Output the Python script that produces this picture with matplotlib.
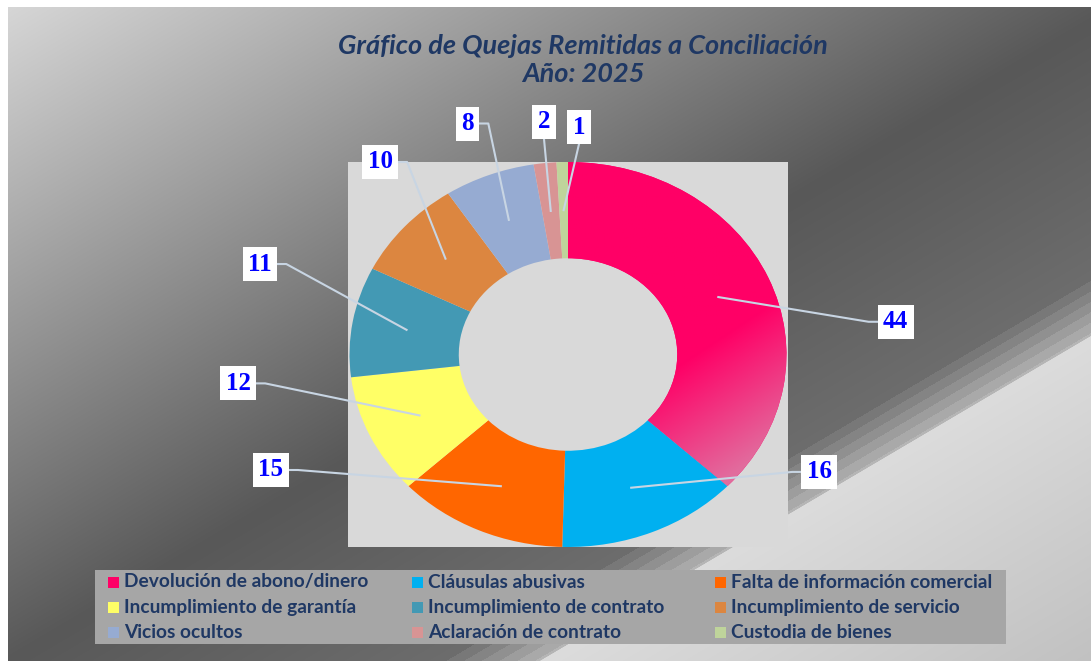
import numpy as np
import matplotlib
matplotlib.use("Agg")
import matplotlib.pyplot as plt
from matplotlib.patches import Rectangle
from matplotlib.colors import to_rgb

categorias = ["Devolución de abono/dinero", "Cláusulas abusivas", "Falta de información comercial",
              "Incumplimiento de garantía", "Incumplimiento de contrato", "Incumplimiento de servicio",
              "Vicios ocultos", "Aclaración de contrato", "Custodia de bienes"]
quejas = [44, 16, 15, 12, 11, 10, 8, 2, 1]
colores = ["#ff0066", "#00b0f0", "#ff6600", "#ffff66", "#4399b4",
           "#dc8640", "#96abd2", "#d89494", "#bfd49b"]

titulo = "Gráfico de Quejas Remitidas a Conciliación\nAño: 2025"

# label box centres (data units of the donut axes) and the side the leader leaves from
pos_etiquetas = [(1.50, 0.17), (1.15, -0.61), (-1.36, -0.60), (-1.51, -0.15), (-1.41, 0.47),
                 (-0.86, 1.00), (-0.46, 1.20), (-0.11, 1.21), (0.05, 1.18)]
lado = ["l", "l", "r", "r", "r", "r", "r", "b", "b"]

W, H = 1091, 661
fig = plt.figure(figsize=(W / 100, H / 100), dpi=100, facecolor="white")

# gradient background
bg = fig.add_axes([8 / W, 0, 1 - 8 / W, 1 - 7 / H])
h, w = 654, 1083
u, v = np.meshgrid(np.linspace(0, 1, w), np.linspace(0, 1, h))
s = 0.977 * u + v
franja = (s > 1.38) & (s < 1.48)
s = np.where(franja, 1.38 + np.floor((s - 1.38) / 0.016) * 0.016, s)
g = np.interp(s, [0, 1.0, 1.38, 1.48, 1.481, 2.0], [214, 88, 108, 185, 220, 192]) / 255
bg.imshow(np.dstack([g, g, g]), aspect="auto", interpolation="bilinear")
bg.axis("off")

# donut
ax = fig.add_axes([348 / W, (H - 547) / H, 440 / W, 385 / H])
wedges, _ = ax.pie(quejas, colors=colores, startangle=90, counterclock=False, radius=1,
                   wedgeprops=dict(width=0.5, edgecolor="none"))
ax.set_frame_on(True)
for sp in ax.spines.values():
    sp.set_visible(False)
ax.set_facecolor("#d9d9d9")

# lighter pink shading on the lower right of the big slice
gx, gy = np.meshgrid(np.linspace(-1, 1, 300), np.linspace(1, -1, 300))
d = 0.6 * gx - 0.8 * gy
t = np.clip((d - 0.35) / 0.6, 0, 1)[..., None] * 0.75
rosa = np.array(to_rgb("#ff0066"))
claro = np.array(to_rgb("#d890b0"))
img = ax.imshow(rosa * (1 - t) + claro * t, extent=[-1, 1, -1, 1], zorder=1.5)
img.set_clip_path(wedges[0])

ax.set_xlim(-1.007, 1.007)
ax.set_ylim(-1, 1)
ax.set_aspect("auto")

total = sum(quejas)
acum = np.cumsum([0] + quejas[:-1])
textos = []
for i, val in enumerate(quejas):
    x, y = pos_etiquetas[i]
    txt = ax.text(x, y, str(val), ha="center", va="center", family="Liberation Serif",
                  fontweight="bold", fontsize=18, color="#0000ff", zorder=6, clip_on=False,
                  bbox=dict(boxstyle="square,pad=0.22", fc="white", ec="none"))
    textos.append(txt)

fig.canvas.draw()
inv = ax.transData.inverted()
for i, val in enumerate(quejas):
    ang = np.deg2rad(90 - (acum[i] + val / 2) / total * 360)
    ancla = (0.75 * np.cos(ang), 0.75 * np.sin(ang))
    bb = textos[i].get_bbox_patch().get_window_extent()
    ym = (bb.y0 + bb.y1) / 2
    if lado[i] == "l":
        pts = [(bb.x0, ym), (bb.x0 - 9, ym)]
    elif lado[i] == "r":
        pts = [(bb.x1, ym), (bb.x1 + 9, ym)]
    else:
        pts = [((bb.x0 + bb.x1) / 2, bb.y0)]
    pts = [tuple(inv.transform(p)) for p in pts] + [ancla]
    xs, ys = zip(*pts)
    ax.plot(xs, ys, color="#c8d5e3", lw=1.5, zorder=5, clip_on=False)

fig.text(583 / W, 1 - 60 / H, titulo, ha="center", va="center", family="Lato", fontsize=19.5,
         fontweight="bold", style="italic", color="#1f3864", linespacing=1.15)

# legend
fig.patches.append(Rectangle((95 / W, 1 - 644 / H), 911 / W, 74 / H, transform=fig.transFigure,
                             fc="#a6a6a6", ec="none", zorder=1))
col_x = [108, 412, 715]
fila_y = [582, 607, 632]
for i, (nombre, c) in enumerate(zip(categorias, colores)):
    x0 = col_x[i % 3]
    y0 = fila_y[i // 3]
    fig.patches.append(Rectangle((x0 / W, 1 - (y0 + 5.5) / H), 11 / W, 11 / H,
                                 transform=fig.transFigure, fc=c, ec="none", zorder=2))
    fig.text((x0 + 16) / W, 1 - y0 / H, nombre, ha="left", va="center", family="Lato",
             fontsize=13.8, fontweight="bold", color="#1f3864", zorder=3)

fig.savefig("out.png", dpi=100, facecolor="white")
